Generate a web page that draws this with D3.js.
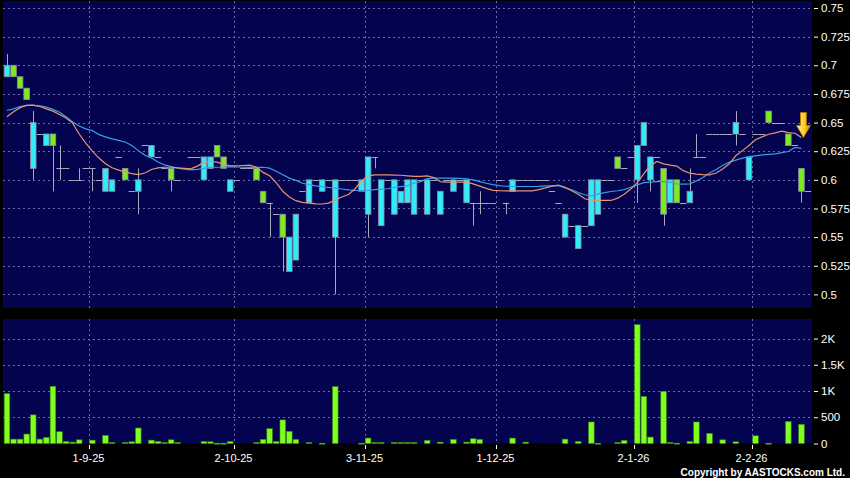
<!DOCTYPE html>
<html>
<head>
<meta charset="utf-8">
<script src="https://cdn.jsdelivr.net/npm/d3@7"></script>
<style>
  body { margin: 0; background: #000; }
  text { font-family: "Liberation Sans", Arial, sans-serif; fill: #fff; }
</style>
</head>
<body>
<script>
// daily candles (green = close below open, cyan = close above open)
const opens = [
  .69,.70,.69,.68,.61,.64,.63,.64,.61,.61, .60,.60,.61,.61,.60,.59,.59,.62,.61,.59,
  .59,.63,.62,.62,.61,.61,.60,.61,.62,.62, .60,.61,.63,.62,.59,.60,.61,.61,.61,.59,
  .58,.57,.57,.52,.53,.59,.58,.60,.59,.60, .55,.60,.60,.60,.59,.57,.62,.56,.60,.57,
  .58,.58,.57,.60,.57,.60,.57,.60,.59,.60, .58,.58,.58,.58,.58,.60,.58,.59,.60,.60,
  .60,.60,.60,.59,.58,.55,.56,.54,.56,.56, .57,.60,.60,.62,.61,.62,.60,.63,.60,.62,
  .61,.58,.60,.58,.58,.62,.62,.64,.64,.64, .64,.64,.64,.60,.64,.64,.66,.65,.65,.64,
  .63,.61,.59];
const closes = [
  .70,.69,.68,.67,.65,.64,.64,.63,.61,.61, .60,.60,.61,.61,.60,.61,.60,.62,.60,.59,
  .60,.63,.63,.62,.61,.60,.60,.61,.62,.62, .62,.62,.62,.61,.60,.60,.61,.61,.60,.58,
  .58,.57,.55,.55,.57,.59,.60,.60,.60,.60, .60,.60,.60,.60,.60,.62,.62,.60,.60,.60,
  .59,.60,.60,.60,.60,.60,.59,.60,.60,.60, .60,.58,.58,.58,.58,.60,.58,.60,.60,.60,
  .60,.60,.60,.59,.58,.57,.56,.56,.56,.60, .60,.60,.60,.61,.61,.62,.63,.65,.62,.62,
  .57,.60,.58,.58,.59,.62,.62,.64,.64,.64, .64,.65,.64,.62,.64,.64,.65,.65,.65,.63,
  .63,.59,.59];
const highs = [
  .71,.70,.69,.68,.66,.64,.64,.64,.63,.61, .60,.61,.61,.61,.60,.61,.60,.62,.61,.59,
  .61,.63,.63,.62,.61,.61,.60,.61,.62,.62, .62,.62,.63,.62,.60,.60,.61,.61,.61,.59,
  .58,.57,.57,.55,.57,.59,.60,.60,.60,.60, .60,.60,.60,.60,.60,.62,.62,.60,.60,.60,
  .59,.60,.60,.60,.60,.60,.59,.60,.60,.60, .60,.58,.59,.58,.58,.60,.58,.60,.60,.60,
  .60,.60,.60,.59,.58,.57,.56,.56,.56,.60, .60,.60,.60,.62,.61,.62,.63,.65,.62,.62,
  .61,.60,.60,.58,.61,.64,.62,.64,.64,.64, .64,.66,.64,.62,.64,.64,.66,.65,.65,.64,
  .63,.61,.59];
const lows = [
  .69,.69,.68,.67,.60,.64,.63,.59,.60,.61, .60,.60,.61,.59,.60,.59,.59,.62,.60,.59,
  .57,.63,.62,.62,.61,.59,.60,.61,.62,.62, .60,.61,.62,.61,.59,.60,.61,.61,.60,.58,
  .55,.57,.52,.52,.53,.59,.58,.60,.59,.60, .50,.60,.60,.60,.59,.55,.61,.56,.60,.57,
  .58,.58,.57,.60,.57,.60,.57,.60,.59,.60, .58,.56,.57,.58,.58,.60,.57,.59,.60,.60,
  .60,.60,.60,.59,.58,.55,.56,.54,.56,.56, .57,.60,.60,.61,.61,.62,.58,.63,.59,.62,
  .56,.58,.58,.58,.58,.62,.62,.64,.64,.64, .64,.63,.64,.60,.64,.64,.65,.65,.65,.63,
  .63,.58,.59];
const volumes = [
  950,83,83,180,545,83,115,1090,224,38, 26,70,0,64,0,154,19,0,19,32,
  295,0,64,38,19,70,19,0,0,0, 38,32,6,6,38,0,0,0,19,77,
  282,38,449,231,77,0,19,0,6,0, 1083,0,0,0,6,103,19,19,0,19,
  19,19,19,0,58,0,26,0,77,0, 26,90,77,0,0,0,0,103,0,26,
  0,0,0,0,0,83,0,38,0,410, 6,0,0,19,58,0,2263,897,122,0,
  994,19,6,0,38,410,0,192,0,70, 0,32,0,0,147,0,6,0,0,417,
  0,365,0];
// moving averages (orange = short, blue = long)
const maShort = [
  .655,.6595,.663,.665,.6652,.664,.662,.660,.657,.654, .6495,.640,.632,.625,.619,.614,.6105,.6085,.607,.6055,
  .6045,.606,.609,.6105,.611,.611,.6105,.610,.6096,.612, .6152,.616,.6155,.6135,.6123,.6122,.6125,.6128,.611,.6065,
  .6035,.5975,.590,.585,.5818,.5803,.5797,.579,.5789,.5797, .5825,.585,.5872,.592,.599,.6035,.6044,.6044,.6044,.6042,
  .604,.6035,.603,.603,.6035,.602,.5985,.598,.598,.598, .598,.5965,.5945,.5925,.5908,.5905,.5904,.5904,.5904,.5904,
  .5904,.5915,.593,.5945,.5955,.5935,.5905,.5875,.5835,.5822, .582,.582,.582,.584,.5875,.592,.5975,.6055,.6125,.616,
  .614,.6128,.612,.608,.6058,.605,.6046,.6044,.606,.6095, .614,.621,.6255,.630,.635,.6375,.6398,.641,.6425,.6412,
  .6407,.637];
const maLong = [
  .6605,.662,.664,.665,.665,.6645,.6635,.6615,.659,.655, .6505,.647,.6445,.643,.6395,.6375,.6357,.6345,.633,.630,
  .6255,.6215,.619,.6155,.613,.6116,.6102,.6094,.6087,.6092, .610,.611,.611,.6112,.6116,.6112,.611,.6108,.6108,.611,
  .6102,.6075,.6045,.6015,.5995,.597,.5958,.5948,.594,.5933, .5927,.592,.5913,.5907,.5907,.5907,.5915,.5919,.5922,.5933,
  .594,.5948,.597,.5985,.601,.6015,.6015,.6015,.6015,.6012, .6008,.600,.5985,.597,.5958,.595,.5944,.5942,.5942,.5942,
  .5942,.5943,.5947,.5948,.5948,.593,.5913,.589,.587,.586, .5875,.5888,.5898,.5905,.5915,.5935,.5956,.5975,.598,.5985,
  .5985,.598,.5965,.5962,.5965,.599,.602,.606,.609,.6125, .6155,.6172,.619,.6203,.621,.6218,.6222,.6227,.6238,.6247,
  .6283,.6275];

const dateLabels = ['1-9-25', '2-10-25', '3-11-25', '1-12-25', '2-1-26', '2-2-26'];
const dateIndex = [13, 35, 55, 75, 96, 114];
const priceTicks = [0.5, 0.525, 0.55, 0.575, 0.6, 0.625, 0.65, 0.675, 0.7, 0.725, 0.75];
const volTicks = [0, 500, 1000, 1500, 2000];
const volTickLabels = ['0', '500', '1K', '1.5K', '2K'];

const width = 850, height = 478;
const plotLeft = 3, plotRight = 812;
const priceTop = 1, priceBottom = 308;
const volTop = 319, volBottom = 443.5;
const panelColor = '#03034f';
const gridColor = '#6a6aa6';

const svg = d3.select('body').append('svg')
  .attr('width', width)
  .attr('height', height)
  .style('display', 'block')
  .style('background', '#000');

const x = d3.scaleBand()
  .domain(d3.range(opens.length))
  .range([3.7, 3.7 + opens.length * 6.566])
  .paddingInner(0.15)
  .paddingOuter(0.075);
const cx = i => x(i) + x.bandwidth() / 2;
const gridX = i => cx(i) - x.step() / 2;

const yPrice = d3.scaleLinear().domain([0.5, 0.75]).range([294.4, 8.0]);
const yVol = d3.scaleLinear().domain([0, 2000]).range([volBottom, 338.5]);

// panels
svg.append('rect').attr('x', plotLeft).attr('y', priceTop)
  .attr('width', plotRight - plotLeft).attr('height', priceBottom - priceTop).attr('fill', panelColor);
svg.append('rect').attr('x', plotLeft).attr('y', volTop)
  .attr('width', plotRight - plotLeft).attr('height', volBottom - volTop).attr('fill', panelColor);

// grid
const grid = svg.append('g').attr('stroke', gridColor).attr('stroke-width', 1).attr('stroke-dasharray', '2,3');
priceTicks.forEach(p => {
  grid.append('line').attr('x1', plotLeft).attr('x2', plotRight)
    .attr('y1', Math.round(yPrice(p)) + 0.5).attr('y2', Math.round(yPrice(p)) + 0.5);
});
volTicks.slice(1).forEach(v => {
  grid.append('line').attr('x1', plotLeft).attr('x2', plotRight)
    .attr('y1', Math.round(yVol(v)) + 0.5).attr('y2', Math.round(yVol(v)) + 0.5);
});
dateIndex.forEach(k => {
  const gx = Math.round(gridX(k)) + 0.5;
  grid.append('line').attr('x1', gx).attr('x2', gx).attr('y1', priceTop).attr('y2', priceBottom);
  grid.append('line').attr('x1', gx).attr('x2', gx).attr('y1', volTop).attr('y2', volBottom);
});

// volume bars
svg.append('g').selectAll('rect')
  .data(volumes.map((v, i) => ({ v, i })).filter(d => d.v > 0))
  .join('rect')
  .attr('x', d => x(d.i))
  .attr('width', x.bandwidth())
  .attr('y', d => yVol(d.v))
  .attr('height', d => Math.max(1, volBottom - yVol(d.v)))
  .attr('fill', '#80ff1e')
  .attr('stroke', '#3c8c12')
  .attr('stroke-width', 0.6);

// candles
const candles = opens.map((o, i) => ({ i, o, c: closes[i], h: highs[i], l: lows[i] }));
const cg = svg.append('g');
cg.selectAll('line.wick')
  .data(candles.filter(d => d.h > d.l))
  .join('line')
  .attr('class', 'wick')
  .attr('x1', d => Math.round(cx(d.i)) + 0.5)
  .attr('x2', d => Math.round(cx(d.i)) + 0.5)
  .attr('y1', d => yPrice(d.h))
  .attr('y2', d => yPrice(d.l))
  .attr('stroke', '#a8a8b8')
  .attr('stroke-width', 1);
cg.selectAll('line.doji')
  .data(candles.filter(d => d.o === d.c))
  .join('line')
  .attr('class', 'doji')
  .attr('x1', d => x(d.i) - 0.4)
  .attr('x2', d => x(d.i) + x.bandwidth() + 0.4)
  .attr('y1', d => Math.round(yPrice(d.o)) + 0.5)
  .attr('y2', d => Math.round(yPrice(d.o)) + 0.5)
  .attr('stroke', '#a8a8b8')
  .attr('stroke-width', 1);
cg.selectAll('rect')
  .data(candles.filter(d => d.o !== d.c))
  .join('rect')
  .attr('x', d => x(d.i))
  .attr('width', x.bandwidth())
  .attr('y', d => yPrice(Math.max(d.o, d.c)))
  .attr('height', d => Math.abs(yPrice(d.o) - yPrice(d.c)))
  .attr('fill', d => d.c > d.o ? '#30ecf8' : '#7cec1c')
  .attr('stroke', '#8c8ca4')
  .attr('stroke-width', 0.8);

// moving averages
const maLine = d3.line().x((d, i) => cx(i)).y(d => yPrice(d));
svg.append('path').datum(maLong).attr('d', maLine)
  .attr('fill', 'none').attr('stroke', '#3a9ee8').attr('stroke-width', 1.2);
svg.append('path').datum(maShort).attr('d', maLine)
  .attr('fill', 'none').attr('stroke', '#e59570').attr('stroke-width', 1.2);

// marker arrow on the last moving-average point
const defs = svg.append('defs');
const grad = defs.append('linearGradient').attr('id', 'arrowGrad').attr('x1', 0).attr('x2', 1).attr('y1', 0).attr('y2', 0);
grad.append('stop').attr('offset', '0%').attr('stop-color', '#fff2a0');
grad.append('stop').attr('offset', '55%').attr('stop-color', '#ffcc20');
grad.append('stop').attr('offset', '100%').attr('stop-color', '#d98a00');
const last = maShort.length - 1;
const ax = cx(last) + 2, tipY = yPrice(maShort[last]);
svg.append('path')
  .attr('d', `M${ax - 3},${tipY - 25} L${ax + 3},${tipY - 25} L${ax + 3},${tipY - 12} L${ax + 7},${tipY - 12} L${ax},${tipY} L${ax - 7},${tipY - 12} L${ax - 3},${tipY - 12} Z`)
  .attr('fill', 'url(#arrowGrad)')
  .attr('stroke', '#b87800')
  .attr('stroke-width', 0.8);

// right axes
const priceAxis = d3.axisRight(yPrice).tickValues(priceTicks).tickSize(4).tickPadding(3).tickFormat(d => String(d));
const volAxis = d3.axisRight(yVol).tickValues(volTicks).tickSize(4).tickPadding(3).tickFormat((d, i) => volTickLabels[i]);
[[priceAxis], [volAxis]].forEach(([ax]) => {
  const g = svg.append('g').attr('transform', `translate(${plotRight + 2},0)`).call(ax);
  g.select('.domain').remove();
  g.selectAll('.tick line').attr('stroke', '#fff');
  g.selectAll('.tick text').attr('fill', '#fff').style('font-size', '11.5px').style('font-family', '"Liberation Sans", Arial, sans-serif');
});

// date axis
dateIndex.forEach((k, j) => {
  const gx = Math.round(gridX(k)) + 0.5;
  svg.append('line').attr('x1', gx).attr('x2', gx).attr('y1', 445).attr('y2', 449)
    .attr('stroke', '#fff').attr('stroke-width', 1);
  svg.append('text').attr('x', gx - 1).attr('y', 462)
    .attr('text-anchor', 'middle').style('font-size', '11px')
    .text(dateLabels[j]);
});

svg.append('text').attr('x', 845).attr('y', 476)
  .attr('text-anchor', 'end')
  .style('font-size', '10px').style('font-weight', 'bold')
  .text('Copyright by AASTOCKS.com Ltd.');
</script>
</body>
</html>
